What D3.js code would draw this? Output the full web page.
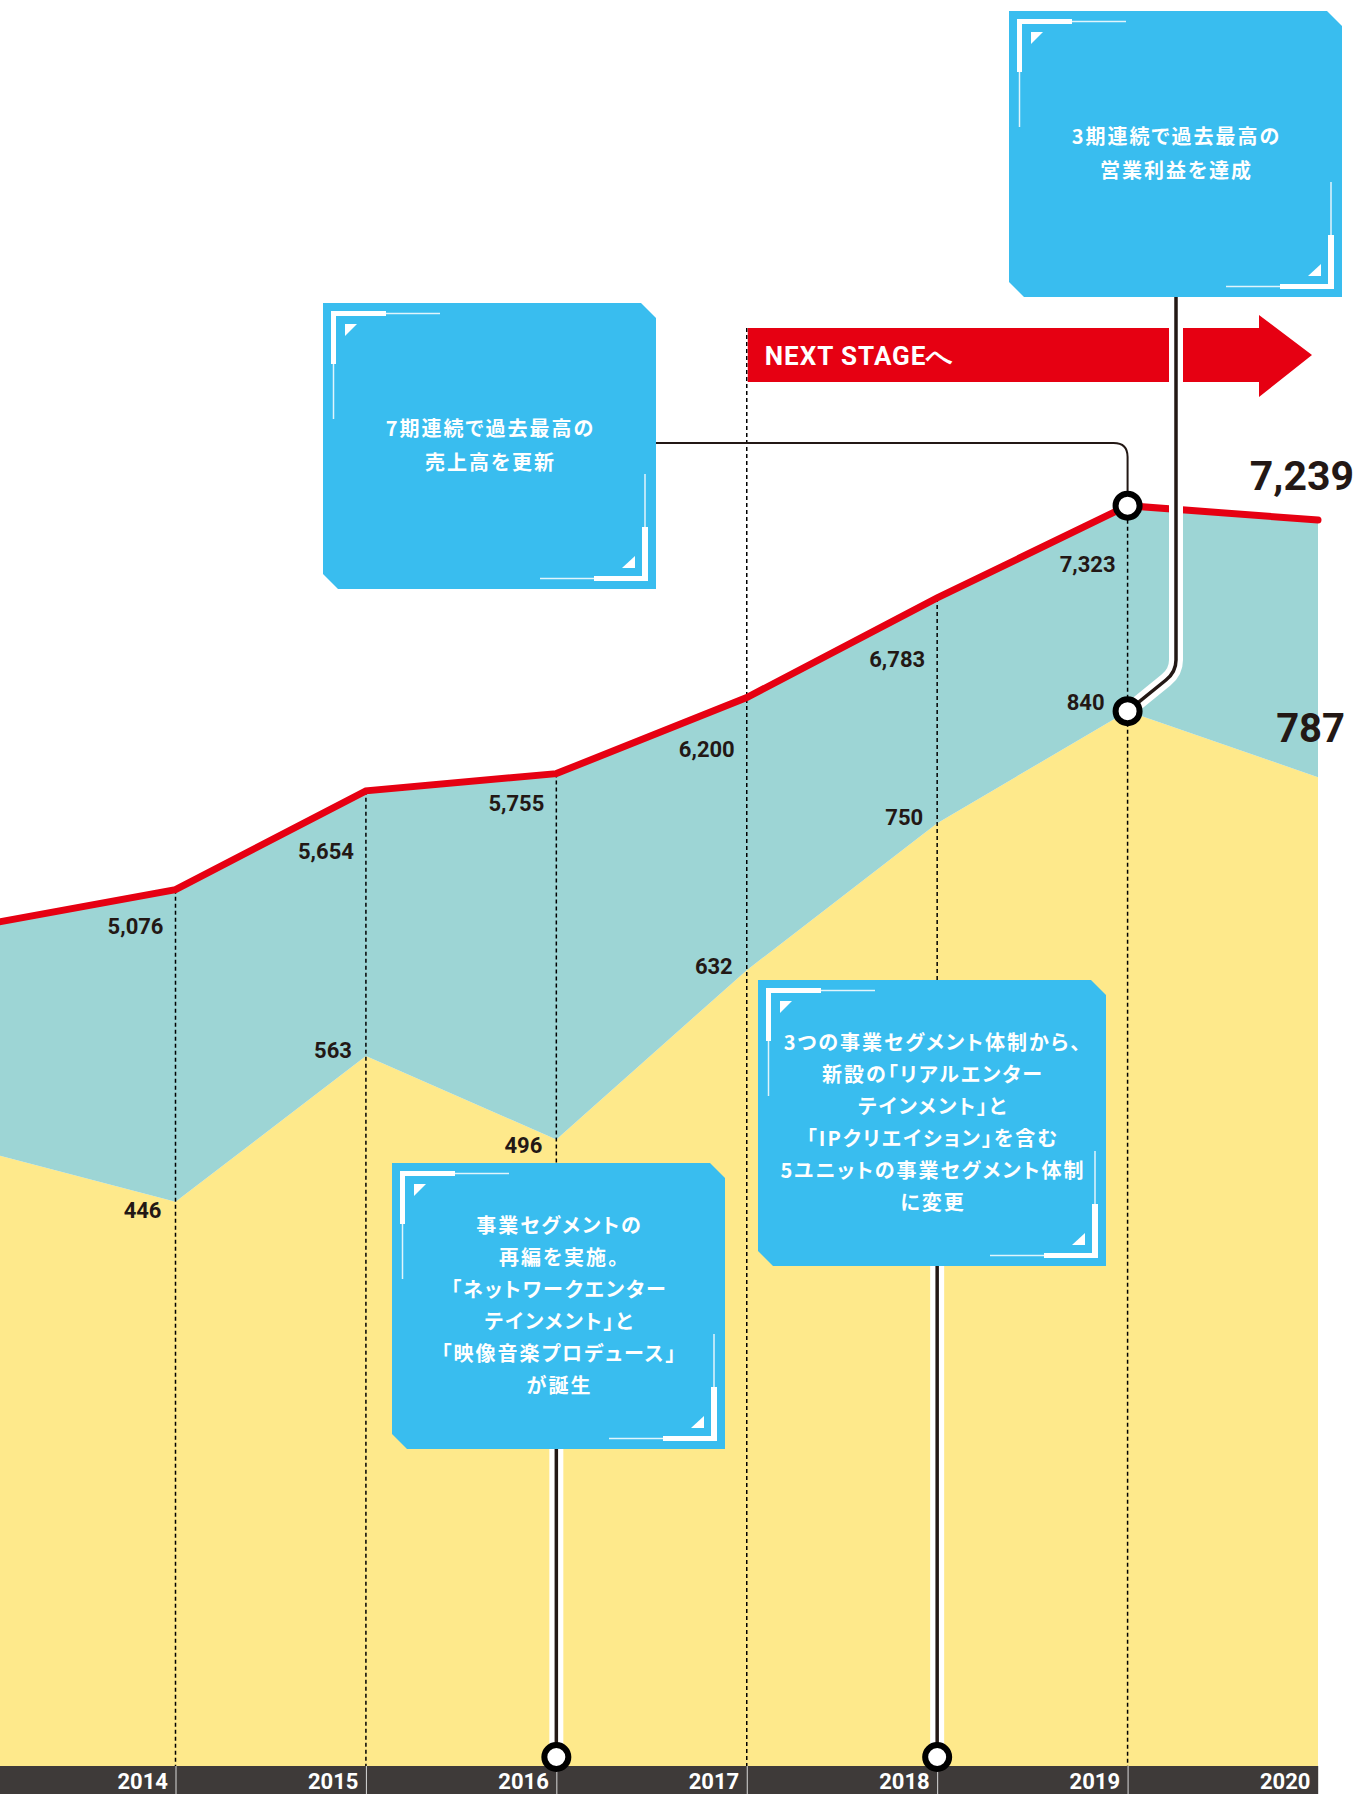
<!DOCTYPE html>
<html>
<head>
<meta charset="utf-8">
<script src="https://cdn.jsdelivr.net/npm/d3@7"></script>
<style>
	body { margin: 0; background: #fff; }
	svg { display: block; }
	.jp { font-family: "Noto Sans CJK JP", sans-serif; font-weight: 700; font-feature-settings: "palt"; }
	.num { font-family: Roboto, "DejaVu Sans", sans-serif; font-weight: 700; }
</style>
</head>
<body>
<div id="chart"></div>
<script>
// Données (億円)
var years = [2013, 2014, 2015, 2016, 2017, 2018, 2019, 2020];
var netSales = [4872, 5076, 5654, 5755, 6200, 6783, 7323, 7239];
var operatingProfit = [486, 446, 563, 496, 632, 750, 840, 787];
var axisYears = [2014, 2015, 2016, 2017, 2018, 2019, 2020];

var textA = ["3期連続で過去最高の", "営業利益を達成"];
var textB = ["7期連続で過去最高の", "売上高を更新"];
var textC = ["事業セグメントの", "再編を実施。", "「ネットワークエンター", "テインメント」と", "「映像音楽プロデュース」", "が誕生"];
var textD = ["3つの事業セグメント体制から、", "新設の「リアルエンター", "テインメント」と", "「IPクリエイション」を含む", "5ユニットの事業セグメント体制", "に変更"];
var nextStage = "NEXT STAGEへ";

function init_chart() {
	var width = 1356
	var height = 1794
	var axisTop = 1766
	var red = "#e60012"
	var teal = "#9dd5d5"
	var yellow = "#fee98b"
	var blue = "#39bdef"
	var ink = "#231815"

	var data = years.map(function (y, i) {
		return {year: y, sales: netSales[i], profit: operatingProfit[i]};
	});

//Echelles
	var x = d3.scaleLinear().domain([2014, 2020]).range([175.5, 1318]);
	var ySales = d3.scaleLinear().domain([0, 8000]).range([1757, 390]);
	var yProfit = d3.scaleLinear().domain([0, 1000]).range([1757, 512]);
	// interpolation le long des lignes (pour placer les étiquettes)
	var salesAt = d3.scaleLinear().domain(years).range(netSales);
	var profitAt = d3.scaleLinear().domain(years).range(operatingProfit);
	function salesY(px) { return ySales(salesAt(x.invert(px))); }
	function profitY(px) { return yProfit(profitAt(x.invert(px))); }

	var svg = d3.select("#chart").append("svg")
		.attr("width", width)
		.attr("height", height);

//Aires
	var yellowArea = d3.area()
		.x(d => x(d.year))
		.y0(axisTop)
		.y1(d => yProfit(d.profit));

	var tealArea = d3.area()
		.x(d => x(d.year))
		.y0(d => yProfit(d.profit))
		.y1(d => ySales(d.sales));

	svg.append("path").datum(data).attr("d", yellowArea).attr("fill", yellow);
	svg.append("path").datum(data).attr("d", tealArea).attr("fill", teal);

//Lignes pointillées des années
	svg.selectAll(".yearline")
		.data(data.filter(d => d.year >= 2014 && d.year < 2020))
		.enter()
		.append("line")
		.attr("x1", d => x(d.year))
		.attr("x2", d => x(d.year))
		.attr("y1", d => d.year == 2017 ? 328 : ySales(d.sales))
		.attr("y2", axisTop)
		.attr("stroke", "#000")
		.attr("stroke-width", 1.5)
		.attr("stroke-dasharray", "4,3");

//Ligne du chiffre d'affaires
	var line = d3.line()
		.x(d => x(d.year))
		.y(d => ySales(d.sales));

	svg.append("path")
		.datum(data)
		.attr("d", line)
		.attr("fill", "none")
		.attr("stroke", red)
		.attr("stroke-width", 7)
		.attr("stroke-linecap", "round");

//Flèche NEXT STAGE
	var ax = x(2017) + 1, top = 328, bot = 382, mid = (top + bot) / 2;
	svg.append("path")
		.attr("d", "M" + ax + "," + top + "H1259V315L1312," + mid + "L1259,397V" + bot + "H" + ax + "Z")
		.attr("fill", red);
	svg.append("text")
		.attr("class", "num")
		.attr("x", ax + 17)
		.attr("y", mid + 9.5)
		.attr("font-size", "26px")
		.attr("letter-spacing", "1px")
		.attr("fill", "#fff")
		.text(nextStage);

//Connecteur de la boîte B (fin)
	var cx19 = x(2019);
	var sy19 = ySales(netSales[6]);
	var py19 = yProfit(operatingProfit[6]);
	svg.append("path")
		.attr("d", "M656,443H" + (cx19 - 14) + "Q" + cx19 + ",443 " + cx19 + ",457V" + sy19)
		.attr("fill", "none")
		.attr("stroke", ink)
		.attr("stroke-width", 2);

//Connecteurs doubles (blanc + noir)
	var connectors = [
		"M" + cx19 + "," + py19 + "L1166,680Q1176,672 1176,660V297",
		"M" + x(2016) + ",1757V1449",
		"M" + x(2018) + ",1757V1266"
	];
	svg.selectAll(".conw").data(connectors).enter().append("path")
		.attr("d", d => d).attr("fill", "none")
		.attr("stroke", "#fff").attr("stroke-width", 14);
	svg.selectAll(".conb").data(connectors).enter().append("path")
		.attr("d", d => d).attr("fill", "none")
		.attr("stroke", ink).attr("stroke-width", 3.5);

//Axe des années
	svg.append("rect")
		.attr("x", 0).attr("y", axisTop)
		.attr("width", x(2020)).attr("height", height - axisTop)
		.attr("fill", "#3e3a39");

	var axis = svg.append("g")
		.attr("transform", "translate(0," + axisTop + ")")
		.call(d3.axisBottom(x).tickValues(axisYears).tickFormat(d3.format("d")).tickSize(height - axisTop));
	axis.select(".domain").remove();
	axis.selectAll(".tick line").attr("stroke", "#d9d9d9").attr("stroke-width", 1);
	axis.selectAll(".tick text")
		.attr("class", "num")
		.attr("x", -8).attr("y", 22.5).attr("dy", null)
		.attr("text-anchor", "end")
		.attr("font-size", "22px")
		.attr("fill", "#fff");

//Cercles
	var circles = [[cx19, sy19], [cx19, py19], [x(2016), 1757], [x(2018), 1757]];
	svg.selectAll(".dot").data(circles).enter().append("circle")
		.attr("cx", d => d[0]).attr("cy", d => d[1])
		.attr("r", 12)
		.attr("fill", "#fff")
		.attr("stroke", "#000")
		.attr("stroke-width", 6);

//Boîtes
	var boxes = [
		{x: 1009, y: 11, w: 333, h: 286, lines: textA, lh: 34},
		{x: 323, y: 303, w: 333, h: 286, lines: textB, lh: 34},
		{x: 392, y: 1163, w: 333, h: 286, lines: textC, lh: 32},
		{x: 758, y: 980, w: 348, h: 286, lines: textD, lh: 32}
	];
	boxes.forEach(function (b) {
		var c = 15;
		var g = svg.append("g").attr("transform", "translate(" + b.x + "," + b.y + ")");
		g.append("path")
			.attr("d", "M0,0H" + (b.w - c) + "L" + b.w + "," + c + "V" + b.h + "H" + c + "L0," + (b.h - c) + "Z")
			.attr("fill", blue);
		// coins décoratifs
		var w = b.w, h = b.h;
		g.append("rect").attr("x", 8).attr("y", 8).attr("width", 55).attr("height", 5).attr("fill", "#fff");
		g.append("rect").attr("x", 8).attr("y", 8).attr("width", 5).attr("height", 53).attr("fill", "#fff");
		g.append("rect").attr("x", w - 14).attr("y", h - 62).attr("width", 6).attr("height", 54).attr("fill", "#fff");
		g.append("rect").attr("x", w - 62).attr("y", h - 13).attr("width", 54).attr("height", 5).attr("fill", "#fff");
		var thin = [[63, 10.5, 117, 10.5], [10.5, 61, 10.5, 116], [w - 11, h - 115, w - 11, h - 62], [w - 116, h - 10.5, w - 62, h - 10.5]];
		g.selectAll(".thin").data(thin).enter().append("line")
			.attr("x1", d => d[0]).attr("y1", d => d[1]).attr("x2", d => d[2]).attr("y2", d => d[3])
			.attr("stroke", "#fff").attr("stroke-width", 1.5).attr("opacity", 0.85);
		g.append("path").attr("d", "M22,21H34L22,33Z").attr("fill", "#fff");
		g.append("path").attr("d", "M" + (w - 21) + "," + (h - 33) + "V" + (h - 21) + "H" + (w - 34) + "Z").attr("fill", "#fff");
		// texte
		var n = b.lines.length;
		g.selectAll(".t").data(b.lines).enter().append("text")
			.attr("class", "jp")
			.attr("x", w / 2 + 1)
			.attr("y", (d, i) => h / 2 + (i - (n - 1) / 2) * b.lh + 7)
			.attr("text-anchor", "middle")
			.attr("font-size", "20px")
			.attr("letter-spacing", "2px")
			.attr("fill", "#fff")
			.text(d => d);
	});

//Etiquettes du chiffre d'affaires
	var mid6 = data.filter(d => d.year >= 2014 && d.year < 2020);
	svg.selectAll(".slab").data(mid6).enter().append("text")
		.attr("class", "num")
		.attr("x", d => x(d.year) - 12)
		.attr("y", d => salesY(x(d.year) - 72) + 23 + 8)
		.attr("text-anchor", "end")
		.attr("font-size", "22px")
		.attr("fill", ink)
		.text(d => d3.format(",")(d.sales));

//Etiquettes du résultat opérationnel
	svg.selectAll(".plab").data(mid6).enter().append("text")
		.attr("class", "num")
		.attr("x", d => x(d.year) - (d.year == 2019 ? 23 : 14))
		.attr("y", function (d, i) {
			var k = i + 1;
			var lowPoint = operatingProfit[k] < operatingProfit[k - 1] && operatingProfit[k] < operatingProfit[k + 1];
			var base = profitY(x(d.year) - 14);
			return (lowPoint ? base + 12 : base - 17) + 8;
		})
		.attr("text-anchor", "end")
		.attr("font-size", "22px")
		.attr("fill", ink)
		.text(d => d3.format(",")(d.profit));

//Valeurs 2020
	var last = data[data.length - 1];
	svg.append("text")
		.attr("class", "num")
		.attr("x", x(last.year) + 36)
		.attr("y", ySales(last.sales) - 45 + 15)
		.attr("text-anchor", "end")
		.attr("font-size", "41px")
		.attr("fill", ink)
		.text(d3.format(",")(last.sales));
	svg.append("text")
		.attr("class", "num")
		.attr("x", x(last.year) + 27)
		.attr("y", yProfit(last.profit) - 49 + 14)
		.attr("text-anchor", "end")
		.attr("font-size", "40px")
		.attr("fill", ink)
		.text(d3.format(",")(last.profit));
}

init_chart();
</script>
</body>
</html>
